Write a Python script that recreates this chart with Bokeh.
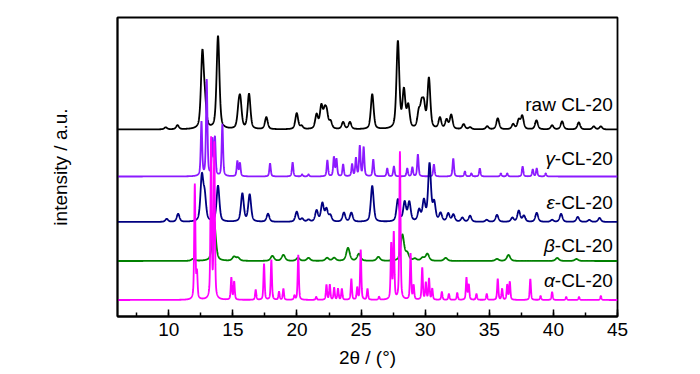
import numpy as np
from bokeh.plotting import figure
from bokeh.models import Label, SingleIntervalTicker, FixedTicker, Range1d
from bokeh.embed import file_html
from bokeh.resources import INLINE

# ---- data: peak positions (2theta, deg) and heights (a.u.) ----
raw_pos = [9.76, 10.68, 12.62, 12.82, 13.84, 15.45, 15.58, 16.26, 17.61, 19.98, 20.36, 21.53, 21.9, 22.16,
           22.32, 22.62, 23.6, 24.13, 25.87, 27.87, 28.34, 28.68, 29.5, 29.72, 29.9, 30.29, 31.15, 31.67,
           32.03, 33.0, 33.5, 34.84, 35.66, 36.86, 37.3, 37.57, 38.68, 39.9, 40.68, 41.98, 43.15, 43.7]
raw_h = [2, 4, 74, 22, 93, 16, 25, 35, 12, 16, 3, 14, 22, 15, 14, 7, 7, 7, 35, 87, 37, 22, 15, 20, 21, 50,
         11, 9, 14, 5, 2, 3, 11, 5, 9, 13, 9, 4, 8, 7, 3, 3]

gam_pos = [12.55, 12.96, 13.4, 13.6, 14.18, 15.35, 15.55, 17.9, 19.66, 20.4, 20.9, 22.37, 22.88,
           23.08, 23.6, 24.3, 24.6, 24.9, 25.2, 25.95, 27.04, 27.56, 28.6, 29.0, 29.43, 30.68, 32.19, 33.1,
           33.6, 34.26, 35.9, 36.4, 37.6, 38.39, 38.7, 39.4]
gam_h = [54, 96, 36, 38, 52, 15, 13, 13, 14, 2, 2, 16, 19, 17, 12, 12, 18, 30, 29, 17, 8, 10, 8, 9, 22,
         12, 18, 5, 3, 8, 3, 3, 10, 7, 8, 3]

eps_pos = [9.84, 10.73, 12.58, 12.8, 13.84, 15.74, 16.31, 17.74, 19.98, 20.4, 20.9, 21.53, 21.98, 22.3,
           22.6, 23.66, 24.24, 25.87, 27.87, 28.4, 28.76, 29.53, 29.9, 30.34, 30.7, 31.2, 31.8, 32.2, 32.9,
           33.5, 34.8, 35.6, 36.8, 37.3, 37.7, 38.7, 39.9, 40.6, 41.9, 42.8, 43.6]
eps_h = [3, 8, 44, 24, 36, 28, 27, 8, 10, 3, 2, 11, 18, 12, 6, 9, 9, 36, 22, 19, 19, 11, 20, 57, 18, 8, 8,
         7, 4, 6, 2, 7, 4, 11, 6, 9, 2, 8, 5, 2, 4]

bet_pos = [11.9, 13.53, 15.09, 15.4, 18.08, 18.94, 20.08, 20.9, 22.35, 22.9, 23.98, 24.83, 26.35, 28.22,
           28.6, 29.2, 29.8, 30.17, 31.6, 35.6, 36.5, 40.3, 41.8]
bet_h = [2, 40, 4, 3, 5, 6, 3, 3, 3, 3, 13, 7, 4, 26, 7, 2, 3, 7, 3, 2, 6, 3, 2]

alp_pos = [12.03, 12.2, 13.3, 13.55, 14.88, 15.1, 16.78, 17.43, 18.0, 18.6, 18.94, 19.8, 20.1, 21.5, 22.3,
           22.56, 22.9, 23.2, 23.5, 24.24, 24.7, 24.97, 25.5, 26.4, 27.35, 27.55, 28.03, 28.86, 29.1, 29.77,
           30.05, 30.3, 30.55, 31.3, 31.85, 32.5, 33.22, 33.4, 34.0, 34.8, 35.66, 36.0, 36.4, 36.6, 38.2,
           39.0, 39.9, 41.0, 42.0, 43.7]
alp_h = [115, 25, 160, 155, 22, 18, 10, 36, 40, 8, 11, 4, 45, 3, 15, 15, 12, 11, 11, 21, 12, 50, 11, 3, 55,
         66, 148, 46, 14, 32, 17, 21, 11, 8, 6, 7, 22, 15, 6, 6, 21, 11, 15, 18, 21, 4, 8, 3, 3, 4]

offsets = [187, 140, 94.5, 55.5, 16.5]
widths = [0.26, 0.13, 0.26, 0.32, 0.11]
colors = ["#000000", "#8C1AFF", "#000080", "#008000", "#FF00FF"]
label_greek = ["", "\u03b3", "\u03b5", "\u03b2", "\u03b1"]
label_rest = ["raw CL-20", "-CL-20", "-CL-20", "-CL-20", "-CL-20"]
label_y = [212, 158, 114.5, 71, 36.5]

peaks = [(raw_pos, raw_h), (gam_pos, gam_h), (eps_pos, eps_h), (bet_pos, bet_h), (alp_pos, alp_h)]

x = np.arange(6.0, 45.0001, 0.01)


def profile(pos, hts, w):
    y = np.zeros_like(x)
    hw = w / 2.0
    for c, h in zip(pos, hts):
        d = (x - c) / hw
        y += h * (0.5 / (1 + d * d) + 0.5 * np.exp(-np.log(2) * d * d))
    return y


FONT = "Liberation Sans"

p = figure(width=658, height=374, x_range=Range1d(6, 45), y_range=Range1d(0, 299),
           output_backend="svg", toolbar_location=None,
           min_border_left=117, min_border_right=41, min_border_top=17, min_border_bottom=58)
p.grid.visible = False
p.outline_line_color = "black"
p.outline_line_width = 1.8
p.background_fill_color = "white"
p.border_fill_color = "white"

for (pos, hts), off, w, col in zip(peaks, offsets, widths, colors):
    p.line(x, profile(pos, hts, w) + off, line_color=col, line_width=1.8)

# x axis
p.xaxis.ticker = SingleIntervalTicker(interval=5, num_minor_ticks=2)
p.xaxis.major_tick_in = 7
p.xaxis.major_tick_out = 0
p.xaxis.minor_tick_in = 4
p.xaxis.minor_tick_out = 0
p.xaxis.axis_line_width = 1.8
p.xaxis.major_tick_line_width = 1.5
p.xaxis.minor_tick_line_width = 1.5
p.xaxis.major_label_text_font = FONT
p.xaxis.major_label_text_font_size = "19px"
p.xaxis.major_label_text_color = "black"
p.xaxis.major_label_standoff = 6
p.xaxis.axis_label = "2\u03b8 / (\u00b0)"
p.xaxis.axis_label_text_font = FONT
p.xaxis.axis_label_text_font_size = "19px"
p.xaxis.axis_label_text_font_style = "normal"
p.xaxis.axis_label_text_color = "black"
p.xaxis.axis_label_standoff = 8

# y axis
p.yaxis.ticker = FixedTicker(ticks=[])
p.yaxis.major_tick_out = 0
p.yaxis.major_tick_in = 0
p.yaxis.minor_tick_out = 0
p.yaxis.major_label_standoff = 0
p.yaxis.axis_label = "intensity / a.u."
p.yaxis.axis_label_text_font = FONT
p.yaxis.axis_label_text_font_size = "19px"
p.yaxis.axis_label_text_font_style = "normal"
p.yaxis.axis_label_text_color = "black"
p.yaxis.axis_label_standoff = 47
p.yaxis.axis_line_width = 1.8

# curve labels
for g, r, ly in zip(label_greek, label_rest, label_y):
    p.add_layout(Label(x=44.64, y=ly, text=r, text_align="right", text_baseline="middle",
                       text_font=FONT, text_font_size="19px", text_color="black"))
    if g:
        p.add_layout(Label(x=44.64, y=ly, x_offset=-58, text=g, text_align="right", text_baseline="middle",
                           text_font=FONT, text_font_size="19px", text_font_style="italic",
                           text_color="black"))

open("out.html", "w").write(file_html(p, INLINE))
